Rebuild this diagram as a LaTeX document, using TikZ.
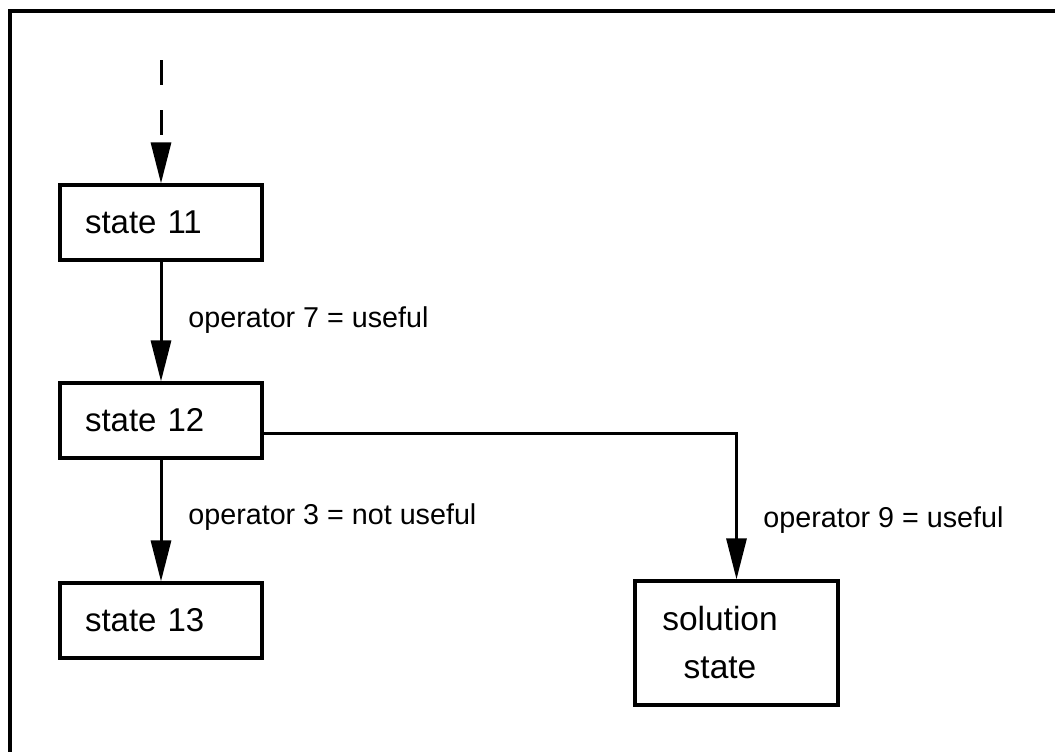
\documentclass[tikz,border=0pt]{standalone}
\usepackage{fontspec}
\setmainfont{Liberation Sans}
\usetikzlibrary{arrows.meta}
\begin{document}
\begin{tikzpicture}[x=0.5pt,y=-0.5pt,
  statebox/.style={draw, line width=1.6pt, minimum height=37.5pt, inner xsep=12.5pt,
    text width=76pt, align=left, font=\fontsize{16.5}{20}\selectfont},
  solbox/.style={draw, line width=1.6pt, minimum height=62pt, inner xsep=0pt,
    text width=101.5pt, align=center, font=\fontsize{16.75}{24}\selectfont},
  oplabel/.style={anchor=west, inner sep=0pt, font=\fontsize{14.35}{17}\selectfont},
  conn/.style={line width=1.5pt, -{Triangle[length=20.5pt,width=10pt]}},
  frame/.style={line width=1.75pt}
]
\useasboundingbox (0,0) rectangle (1055,751);
\draw[frame] (10,760) -- (10,11) -- (1060,11);

\node[statebox] (s11) at (161,222.5) {state 11};
\node[statebox] (s12) at (161,420.5) {state 12};
\node[statebox] (s13) at (161,620.5) {state 13};
\node[solbox] (sol) at (736.5,643) {\mbox{solution\hspace{16.5pt}}\\\mbox{state\hspace{16.5pt}}};

\coordinate (top) at (161,60);
\draw[conn, dash pattern=on 12.5pt off 12.5pt] (top) -- (s11.north);
\draw[conn] (s11.south) -- (s12.north);
\draw[conn] (s12.south) -- (s13.north);
\draw[conn] ([yshift=-6.25pt]s12.east) -| (sol.north);

\node[oplabel] (op7) at (188,320) {operator 7 = useful};
\node[oplabel] (op3) at (188,517) {operator 3 = not useful};
\node[oplabel] (op9) at (763,520) {operator 9 = useful};
\end{tikzpicture}
\end{document}
